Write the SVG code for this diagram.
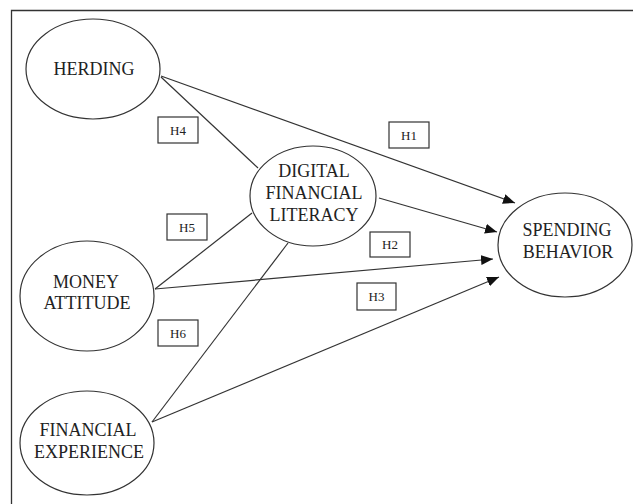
<svg xmlns="http://www.w3.org/2000/svg" width="633" height="504" viewBox="0 0 633 504">
<style>
.node ellipse{fill:#fff;stroke:#333;stroke-width:1.2}
.node text{font-family:"Liberation Serif","Times New Roman",serif;font-size:18px;fill:#222;text-anchor:middle}
.lab rect{fill:#fff;stroke:#333;stroke-width:1.2}
.lab text{font-family:"Liberation Serif","Times New Roman",serif;font-size:13px;fill:#222;text-anchor:middle}
.conn line{stroke:#333;stroke-width:1.2}
.arr{marker-end:url(#ah)}
</style>
<defs>
<marker id="ah" viewBox="0 0 12 10" refX="12" refY="5" markerWidth="12" markerHeight="10" markerUnits="userSpaceOnUse" orient="auto">
<path d="M0,0 L12,5 L0,10 Z" fill="#111"/>
</marker>
</defs>
<rect width="633" height="504" fill="#fff"/>
<path d="M11.5,504 V10.5 H633" fill="none" stroke="#333" stroke-width="1.3"/>
<g class="conn" id="connectors">
<line class="arr" x1="161" y1="76" x2="515" y2="203"/>
<line x1="161" y1="77" x2="258" y2="168"/>
<line class="arr" x1="379" y1="198" x2="497" y2="232"/>
<line x1="155" y1="289" x2="252" y2="213"/>
<line class="arr" x1="155" y1="289" x2="493" y2="259"/>
<line x1="152" y1="422" x2="288" y2="243"/>
<line class="arr" x1="152" y1="422" x2="499" y2="277"/>
</g>
<g class="node" id="herding">
<ellipse cx="93" cy="69" rx="67" ry="50"/>
<text x="94" y="75">HERDING</text>
</g>
<g class="node" id="dfl">
<ellipse cx="313" cy="196" rx="63" ry="50"/>
<text x="314" y="177">DIGITAL</text>
<text x="314" y="199">FINANCIAL</text>
<text x="314" y="221">LITERACY</text>
</g>
<g class="node" id="spending">
<ellipse cx="565" cy="245" rx="67" ry="52"/>
<text x="567" y="236">SPENDING</text>
<text x="568" y="258">BEHAVIOR</text>
</g>
<g class="node" id="money">
<ellipse cx="87" cy="296" rx="67" ry="55"/>
<text x="86" y="288">MONEY</text>
<text x="87" y="309">ATTITUDE</text>
</g>
<g class="node" id="finexp">
<ellipse cx="87" cy="443" rx="67" ry="52"/>
<text x="88" y="436">FINANCIAL</text>
<text x="89" y="458">EXPERIENCE</text>
</g>
<g class="lab" id="h4"><rect x="158" y="117" width="40" height="26"/><text x="178" y="134.5">H4</text></g>
<g class="lab" id="h1"><rect x="389" y="122" width="40" height="26"/><text x="409" y="139.5">H1</text></g>
<g class="lab" id="h5"><rect x="167" y="214" width="40" height="26"/><text x="187" y="231.5">H5</text></g>
<g class="lab" id="h2"><rect x="370" y="232" width="40" height="25"/><text x="390" y="249">H2</text></g>
<g class="lab" id="h3"><rect x="357" y="283" width="39" height="27"/><text x="376.5" y="301">H3</text></g>
<g class="lab" id="h6"><rect x="158" y="320" width="40" height="26"/><text x="178" y="337.5">H6</text></g>
</svg>
